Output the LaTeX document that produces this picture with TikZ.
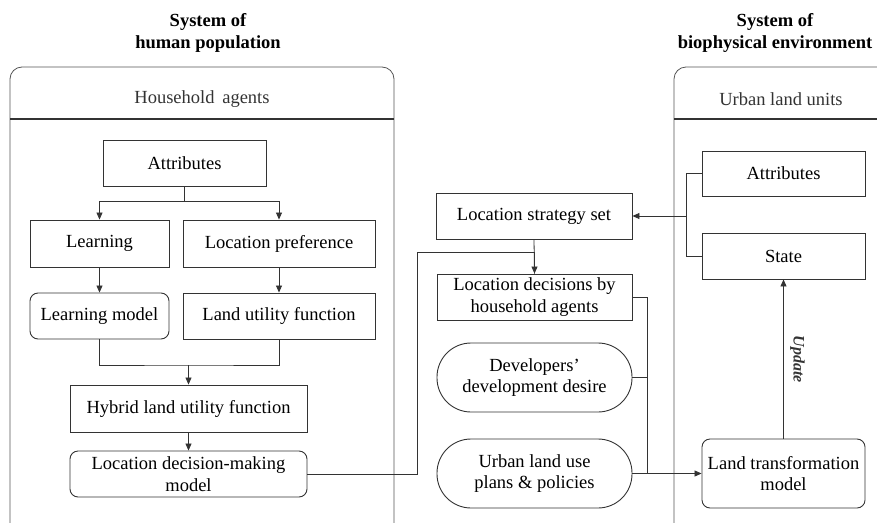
\documentclass[tikz,border=0pt]{standalone}
\usepackage{fontspec}
\setmainfont{Liberation Serif}
\usetikzlibrary{arrows.meta}
\definecolor{ln}{HTML}{333333}
\definecolor{pn}{HTML}{555555}
\tikzset{
  bx/.style={draw=ln, line width=0.9pt, rectangle, inner sep=1pt, align=center, text=black, font=\fontsize{18.5}{21.5}\selectfont},
  rbx/.style={bx, rounded corners=8pt},
  stad/.style={bx, rounded corners=34pt},
  conn/.style={draw=ln, line width=0.8pt},
  arr/.style={conn, -{Triangle[length=7pt,width=6pt]}},
  ttl/.style={font=\fontsize{18.5}{21.5}\selectfont\bfseries, align=center},
  hdr/.style={font=\fontsize{18.5}{21.5}\selectfont, text=ln},
}
\begin{document}
\begin{tikzpicture}[x=1pt,y=-1pt]
\useasboundingbox (0,0) rectangle (877,522);
\begin{scope}
\clip (0,0) rectangle (877,522);
% panels
\draw[pn, line width=0.8pt, rounded corners=12pt] (10,528) -- (10,67) -- (394,67) -- (394,528);
\draw[pn, line width=0.8pt, rounded corners=12pt] (674,528) -- (674,67) -- (900,67);
\draw[ln, line width=1.6pt] (10,119) -- (394,119);
\draw[ln, line width=1.6pt] (674,119) -- (900,119);
\end{scope}
\node[ttl] (t1) at (208,33) {System of\\human population};
\node[ttl] (t2) at (775,33) {System of\\biophysical environment};
\node[hdr] (h1) at (202,99) {Household\, agents};
\node[hdr] (h2) at (781,99) {Urban land units};

% left boxes
\node[bx, minimum width=163pt, minimum height=46pt] (attrL) at (184.5,163) {Attributes};
\node[bx, minimum width=139pt, minimum height=47pt] (learn) at (99.5,243.5) {Learning};
\node[bx, minimum width=192pt, minimum height=47pt] (locpref) at (279,243.5) {Location preference};
\node[rbx, minimum width=139pt, minimum height=46pt] (lmodel) at (99.5,316) {Learning model};
\node[bx, minimum width=192pt, minimum height=46pt] (luf) at (279,316) {Land utility function};
\node[bx, minimum width=237pt, minimum height=47pt] (hybrid) at (188.5,408.5) {Hybrid land utility function};
\node[rbx, minimum width=237pt, minimum height=46pt] (ldmm) at (188.5,474) {Location decision-making\\model};

% middle boxes
\node[bx, minimum width=196pt, minimum height=46pt] (lss) at (534,216) {Location strategy set};
\node[bx, minimum width=195pt, minimum height=46pt] (ldh) at (534.5,297) {Location decisions by\\household agents};
\node[stad, minimum width=195pt, minimum height=69pt] (dev) at (534.5,377.5) {Developers'\\development desire};
\node[stad, minimum width=195pt, minimum height=69pt] (ulup) at (534.5,473.5) {Urban land use\\plans \& policies};

% right boxes
\node[bx, minimum width=163pt, minimum height=45pt] (attrR) at (783.5,173.5) {Attributes};
\node[bx, minimum width=163pt, minimum height=46pt] (state) at (783.5,256) {State};
\node[rbx, minimum width=163pt, minimum height=69pt] (ltm) at (783.5,473.5) {Land transformation\\model};

% connectors left
\coordinate (s1) at (184.5,201);
\draw[conn] (attrL.south) -- (s1);
\draw[arr] (s1) -| (learn.north);
\draw[arr] (s1) -| (locpref.north);
\draw[arr] (learn.south) -- (lmodel.north);
\draw[arr] (locpref.south) -- (luf.north);
\coordinate (m1) at (188.5,365);
\draw[conn] (lmodel.south) |- (m1) -| (luf.south);
\draw[arr] (m1) -- (hybrid.north);
\draw[arr] (hybrid.south) -- (ldmm.north);

% to middle
\coordinate (j1) at (417,252);
\draw[arr] (ldmm.east) -| (j1) -| (ldh.north);
\draw[conn] (lss.south) -- (ldh.north);

% bracket from right
\coordinate (b1) at (686,216);
\draw[conn] (attrR.west) -| (b1) |- (state.west);
\draw[arr] (b1) -- (lss.east);

% to land transformation
\coordinate (j2) at (647,473.5);
\draw[conn] (ldh.east) -| (j2);
\draw[conn] (dev.east) -- (dev.east -| j2);
\draw[arr] (ulup.east) -- (ltm.west);
\draw[arr] (ltm.north) -- node[pos=0.5, rotate=-90, anchor=south, yshift=3pt, font=\fontsize{16}{18}\selectfont\bfseries\itshape, text=ln] (upd) {Update} (state.south);
\end{tikzpicture}
\end{document}
